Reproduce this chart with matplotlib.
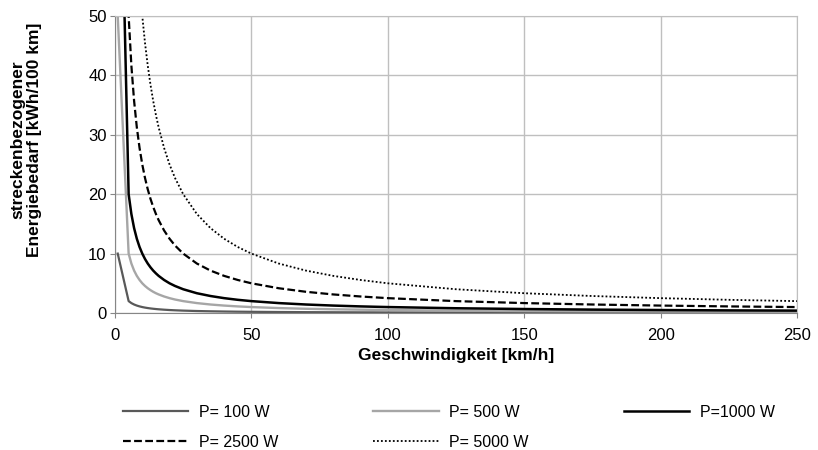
import matplotlib
matplotlib.use("Agg")
import matplotlib.pyplot as plt

plt.rcParams['font.family'] = ['Liberation Sans', 'DejaVu Sans']

# Geschwindigkeit [km/h]
speed = [1, 5, 6, 7, 8, 9, 10, 11, 12, 13, 14, 15, 16, 18, 20, 22, 25,
         30, 35, 40, 45, 50, 60, 70, 80, 90, 100, 125, 150, 175, 200, 225, 250]

# streckenbezogener Energiebedarf [kWh/100 km]
p100 = [10, 2, 1.667, 1.429, 1.25, 1.111, 1, 0.909, 0.833, 0.769, 0.714,
        0.667, 0.625, 0.556, 0.5, 0.455, 0.4, 0.333, 0.286, 0.25, 0.222, 0.2,
        0.167, 0.143, 0.125, 0.111, 0.1, 0.08, 0.067, 0.057, 0.05, 0.044, 0.04]
p500 = [50, 10, 8.33, 7.14, 6.25, 5.56, 5, 4.55, 4.17, 3.85, 3.57, 3.33,
        3.125, 2.78, 2.5, 2.27, 2, 1.67, 1.43, 1.25, 1.11, 1, 0.83, 0.71,
        0.625, 0.56, 0.5, 0.4, 0.33, 0.29, 0.25, 0.22, 0.2]
p1000 = [100, 20, 16.67, 14.29, 12.5, 11.11, 10, 9.09, 8.33, 7.69, 7.14,
         6.67, 6.25, 5.56, 5, 4.55, 4, 3.33, 2.86, 2.5, 2.22, 2, 1.67, 1.43,
         1.25, 1.11, 1, 0.8, 0.67, 0.57, 0.5, 0.44, 0.4]
p2500 = [250, 50, 41.67, 35.71, 31.25, 27.78, 25, 22.73, 20.83, 19.23, 17.86,
         16.67, 15.63, 13.89, 12.5, 11.36, 10, 8.33, 7.14, 6.25, 5.56, 5,
         4.17, 3.57, 3.125, 2.78, 2.5, 2, 1.67, 1.43, 1.25, 1.11, 1]
p5000 = [500, 100, 83.33, 71.43, 62.5, 55.56, 50, 45.45, 41.67, 38.46, 35.71,
         33.33, 31.25, 27.78, 25, 22.73, 20, 16.67, 14.29, 12.5, 11.11, 10,
         8.33, 7.14, 6.25, 5.56, 5, 4, 3.33, 2.86, 2.5, 2.22, 2]

labels = ["P= 100 W", "P= 500 W", "P=1000 W", "P= 2500 W", "P= 5000 W"]

fig = plt.figure(figsize=(8.18, 4.5), dpi=100)
ax = fig.add_axes([115/818, 1-313/450, (797-115)/818, (313-16)/450])

l1, = ax.plot(speed, p100, color='#595959', lw=1.6, label=labels[0])
l2, = ax.plot(speed, p500, color='#a6a6a6', lw=1.7, label=labels[1])
l3, = ax.plot(speed, p1000, color='black', lw=1.8, label=labels[2])
l4, = ax.plot(speed, p2500, color='black', lw=1.6, ls=(0, (3.5, 1.5)), label=labels[3])
l5, = ax.plot(speed, p5000, color='black', lw=1.3, ls=(0, (1, 1.2)), label=labels[4])

ax.set_xlim(0, 250)
ax.set_ylim(0, 50)
ax.set_xticks([0, 50, 100, 150, 200, 250])
ax.set_yticks([0, 10, 20, 30, 40, 50])
ax.grid(True, color='#bfbfbf', lw=1.0)
ax.set_axisbelow(True)
for s in ['top', 'right']:
    ax.spines[s].set_color('#bfbfbf')
for s in ['left', 'bottom']:
    ax.spines[s].set_color('#868686')
ax.tick_params(axis='both', labelsize=12, length=3.5, width=0.8, color='#868686')
ax.tick_params(axis='x', pad=7)
ax.tick_params(axis='y', pad=2.5)

ax.set_xlabel("Geschwindigkeit [km/h]", fontsize=12.5, fontweight='bold', labelpad=4)
fig.text(26/818, 1-140/450, "streckenbezogener\nEnergiebedarf [kWh/100 km]",
         rotation=90, ha='center', va='center', multialignment='center',
         fontsize=12.5, fontweight='bold', linespacing=1.1)

handles = [l1, l4, l2, l5, l3]
fig.legend(handles, [h.get_label() for h in handles], ncol=3, frameon=False,
           loc='upper left', bbox_to_anchor=(123/818, 1-405/450),
           borderpad=0, borderaxespad=0, handlelength=4.1, handletextpad=0.65,
           columnspacing=5.95, labelspacing=0.93, fontsize=11.5)

fig.savefig("out.png", dpi=100)
